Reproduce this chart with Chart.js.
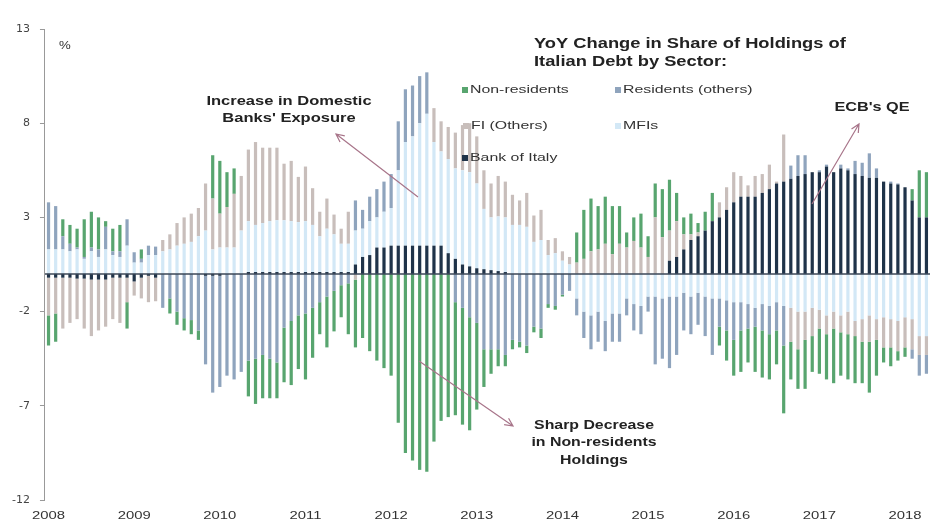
<!DOCTYPE html>
<html>
<head>
<meta charset="utf-8">
<title>YoY Change in Share of Holdings of Italian Debt by Sector</title>
<script src="https://cdn.jsdelivr.net/npm/chart.js@4.4.0/dist/chart.umd.min.js"></script>
<style>
    html, body { margin: 0; padding: 0; background: #fff; }
    #wrap { width: 932px; height: 525px; position: relative; }
</style>
</head>
<body>
<div id="wrap"><canvas id="holdings"></canvas></div>
<script>
    "use strict";

    // Years on the axis, one bar per month (Jan 2008 - Apr 2018)
    var years = ['2008', '2009', '2010', '2011', '2012', '2013', '2014', '2015', '2016', '2017', '2018'];
    var yTicks = [-12, -7, -2, 3, 8, 13];

    // YoY change in share, % points
    var bankOfItaly = [
        -0.2, -0.2, -0.2, -0.2, -0.25, -0.25, -0.3, -0.3, -0.3, -0.2, -0.2, -0.2,
        -0.4, -0.2, -0.1, -0.2, 0, 0, 0, 0, 0, 0, -0.1, -0.1,
        -0.1, 0, 0, 0, 0.1, 0.1, 0.1, 0.1, 0.1, 0.1, 0.1, 0.1,
        0.1, 0.1, 0.1, 0.1, 0.1, 0.1, 0.1, 0.5, 0.9, 1.0, 1.4, 1.4,
        1.5, 1.5, 1.5, 1.5, 1.5, 1.5, 1.5, 1.5, 1.1, 0.8, 0.5, 0.4,
        0.3, 0.25, 0.2, 0.15, 0.1, 0, 0, 0, 0, 0, 0, 0,
        0, 0, 0, 0, 0, 0, 0, 0, 0, 0, 0, 0,
        0, 0, 0, 0.7, 0.9, 1.3, 1.8, 2.0, 2.3, 2.8, 3.0, 3.4,
        3.8, 4.1, 4.1, 4.1, 4.3, 4.5, 4.8, 4.9, 5.05, 5.2, 5.3, 5.4,
        5.4, 5.7, 5.4, 5.6, 5.5, 5.3, 5.2, 5.1, 5.1, 4.9, 4.8, 4.75,
        4.6, 3.9, 3.0, 3.0
    ];
    var mfis = [
        1.3, 1.3, 1.3, 1.2, 1.3, 0.8, 1.2, 0.9, 1.3, 1.0, 0.9, 1.5,
        0.6, 0.6, 1.0, 1.0, 1.2, 1.3, 1.5, 1.6, 1.7, 2.0, 2.3, 1.3,
        1.4, 1.4, 1.4, 2.3, 2.7, 2.5, 2.6, 2.7, 2.75, 2.75, 2.7, 2.65,
        2.7, 2.5, 1.9, 2.3, 2.0, 1.5, 1.5, 1.8, 1.5, 1.8, 1.6, 1.9,
        2.0, 4.0, 5.5, 5.8, 6.5, 7.0, 5.5, 5.0, 5.0, 4.8, 5.0, 5.0,
        4.5, 3.2, 2.8, 2.9, 2.9, 2.6, 2.6, 2.5, 1.7, 1.8, 1.0, 1.1,
        0.7, 0.5, -1.3, -2.0, -2.2, -2.0, -2.5, -2.1, -2.1, -1.3, -1.6, -1.7,
        -1.2, -1.2, -1.3, -1.2, -1.2, -1.0, -1.2, -1.0, -1.2, -1.3, -1.3, -1.4,
        -1.5, -1.5, -1.6, -1.8, -1.6, -1.7, -1.5, -1.7, -1.8, -2.0, -2.0, -1.8,
        -1.9, -2.2, -2.0, -2.2, -2.0, -2.5, -2.4, -2.2, -2.4, -2.3, -2.4, -2.5,
        -2.3, -2.4, -3.3, -3.3
    ];
    var fiOthers = [
        -2.0, -1.9, -2.7, -2.4, -2.15, -2.65, -3.0, -2.7, -2.5, -2.2, -2.4, -1.3,
        -0.75, -1.1, -1.4, -1.25, 0.6, 0.8, 1.2, 1.4, 1.5, 1.5, 2.5, 2.7,
        1.8, 2.15, 2.85, 2.9, 3.8, 4.4, 4.0, 3.9, 3.85, 3.0, 3.2, 2.4,
        2.9, 1.95, 1.3, 1.6, 1.05, 0.8, 1.7, -0.3, 0, 0, 0, 0,
        0, 0, 0, 0, 0, 0, 1.8, 1.6, 1.7, 1.9, 2.4, 2.6,
        2.5, 2.05, 1.8, 2.15, 1.9, 1.6, 1.3, 1.8, 1.4, 1.6, 0.8, 0.8,
        0.5, 0.4, 0.6, 0.8, 1.2, 1.3, 1.6, 1.05, 1.6, 1.4, 1.75, 1.4,
        0.9, 3.0, 1.95, 1.6, 1.9, 0.8, 0.3, 0.2, 0, 0, 0.8, 1.2,
        1.6, 1.1, 0.6, 1.1, 1.0, 1.3, 0.1, 2.5, -1.8, -2.0, -1.5, -1.5,
        -1.0, -1.0, -0.9, -0.9, -1.2, -0.8, -1.2, -1.4, -1.1, -1.6, -1.5, -1.6,
        -1.6, -1.6, -1.0, -1.0
    ];
    var residentsOthers = [
        2.5, 2.3, 0.7, 0.4, 0.1, 0.1, 0.2, 0.4, 1.2, 0.2, 0.3, 1.4,
        0.55, 0.2, 0.5, 0.45, -1.8, -1.3, -2.0, -2.35, -2.45, -3.0, -4.7, -6.2,
        -5.9, -5.4, -5.6, -5.2, -4.6, -4.5, -4.3, -4.5, -4.7, -2.85, -2.5, -2.2,
        -2.1, -1.8, -1.5, -1.2, -0.9, -0.6, -0.5, 1.6, 1.0, 1.3, 1.5, 1.6,
        1.8, 2.6, 2.8, 2.7, 2.5, 2.2, 0, 0, 0, -1.5, -1.8, -2.3,
        -2.6, -4.0, -4.0, -4.0, -4.3, -3.5, -3.6, -3.8, -2.8, -2.9, -1.6, -1.7,
        -1.1, -0.9, -0.9, -1.4, -1.8, -1.6, -1.6, -1.5, -1.5, -0.9, -1.4, -1.5,
        -0.8, -3.6, -3.2, -3.8, -3.1, -2.0, -2.0, -1.7, -2.1, -3.0, -1.5, -1.6,
        -2.0, -1.5, -1.3, -1.0, -1.4, -1.5, -1.5, -2.1, 0.7, 1.1, 1.0, 0,
        0.1, 0.1, 0, 0.2, 0.1, 0.7, 0.7, 1.3, 0.5, 0, 0.1, 0.05,
        0, -0.5, -1.1, -1.0
    ];
    var nonResidents = [
        -1.6, -1.5, 0.9, 1.0, 1.0, 2.0, 1.9, 1.7, 0.3, 1.2, 1.4, -1.4,
        0, 0.5, 0, 0, 0, -0.8, -0.7, -0.65, -0.75, -0.5, 0, 2.3,
        2.8, 1.85, 1.35, 0, -1.9, -2.4, -2.3, -2.1, -1.9, -2.9, -3.4, -2.85,
        -3.5, -2.65, -1.7, -2.7, -2.15, -1.7, -2.7, -3.6, -3.4, -4.1, -4.6, -5.0,
        -5.4, -7.9, -9.5, -9.9, -10.4, -10.5, -8.9, -7.8, -7.6, -6.0, -6.2, -6.0,
        -4.6, -2.0, -1.3, -0.9, -0.6, -0.5, -0.3, -0.4, -0.3, -0.5, -0.2, -0.2,
        -0.1, 0, 1.6, 2.6, 2.8, 2.3, 2.5, 2.55, 2.0, 0.8, 1.25, 1.8,
        1.1, 1.8, 2.55, 2.7, 1.5, 0.9, 1.1, 0.5, 1.0, 1.5, -1.0, -1.6,
        -1.9, -2.2, -1.8, -2.4, -2.5, -2.4, -1.8, -3.6, -2.0, -2.1, -2.6, -1.9,
        -2.4, -2.4, -2.9, -2.3, -2.4, -2.5, -2.2, -2.7, -1.9, -0.8, -1.0, -0.5,
        -0.5, 0.6, 2.5, 2.4
    ];

    // Month categories
    var months = [];
    years.forEach(function (y) {
        for (var m = 1; m <= 12; m++) {
            months.push(y + '-' + (m < 10 ? '0' : '') + m);
        }
    });
    months = months.slice(0, nonResidents.length);

    var FONT = '"Liberation Sans", Arial, sans-serif';
    var colors = {
        nonRes: '#58a56f',
        res: '#8fa4bd',
        fi: '#c8bebb',
        mfi: '#d3e8f6',
        boi: '#1f3349'
    };

    // text squeezed wider, like the stretched original
    function wideText(ctx, str, x, y, font, sx, align) {
        ctx.save();
        ctx.font = font;
        ctx.textAlign = align || 'left';
        ctx.textBaseline = 'middle';
        ctx.translate(x, y);
        ctx.scale(sx, 1);
        ctx.fillText(str, 0, 0);
        ctx.restore();
    }

    function arrow(ctx, x1, y1, x2, y2) {
        var a = Math.atan2(y2 - y1, x2 - x1);
        ctx.strokeStyle = '#a8758a';
        ctx.lineWidth = 1.2;
        ctx.beginPath();
        ctx.moveTo(x1, y1);
        ctx.lineTo(x2, y2);
        ctx.moveTo(x2 - 9 * Math.cos(a - 0.45), y2 - 9 * Math.sin(a - 0.45));
        ctx.lineTo(x2, y2);
        ctx.lineTo(x2 - 9 * Math.cos(a + 0.45), y2 - 9 * Math.sin(a + 0.45));
        ctx.stroke();
    }

    // Zero line, year labels, title, legend and notes
    var overlay = {
        id: 'overlay',
        afterDatasetsDraw: function (chart) {
            var ctx = chart.ctx;
            var area = chart.chartArea;
            var xs = chart.scales.x;
            var y0 = chart.scales.y.getPixelForValue(0);

            ctx.save();
            ctx.strokeStyle = '#3b4757';
            ctx.lineWidth = 1.5;
            ctx.beginPath();
            ctx.moveTo(area.left, y0);
            ctx.lineTo(area.right, y0);
            ctx.stroke();

            // year labels under January bars
            ctx.fillStyle = '#333';
            years.forEach(function (y, i) {
                if (i * 12 < months.length) {
                    wideText(ctx, y, xs.getPixelForValue(i * 12), 516, '11px ' + FONT, 1.35, 'center');
                }
            });

            wideText(ctx, '%', 59, 46, '11px ' + FONT, 1.2, 'left');

            // title
            ctx.fillStyle = '#222';
            wideText(ctx, 'YoY Change in Share of Holdings of', 534, 44, 'bold 15px ' + FONT, 1.22, 'left');
            wideText(ctx, 'Italian Debt by Sector:', 534, 62, 'bold 15px ' + FONT, 1.22, 'left');

            // legend
            var items = [
                ['Non-residents', colors.nonRes, 462, 90],
                ['Residents (others)', colors.res, 615, 90],
                ['FI (Others)', colors.fi, 463, 126],
                ['MFIs', colors.mfi, 615, 126],
                ['Bank of Italy', colors.boi, 462, 158]
            ];
            items.forEach(function (it) {
                ctx.fillStyle = it[1];
                ctx.fillRect(it[2], it[3] - 3, 6, 6);
                ctx.fillStyle = '#333';
                wideText(ctx, it[0], it[2] + 8, it[3], '11.5px ' + FONT, 1.38, 'left');
            });

            // notes
            ctx.fillStyle = '#222';
            var noteFont = 'bold 13px ' + FONT;
            wideText(ctx, 'Increase in Domestic', 289, 101, noteFont, 1.27, 'center');
            wideText(ctx, "Banks' Exposure", 289, 118, noteFont, 1.27, 'center');
            wideText(ctx, "ECB's QE", 872, 107, noteFont, 1.25, 'center');
            wideText(ctx, 'Sharp Decrease', 594, 425, noteFont, 1.22, 'center');
            wideText(ctx, 'in Non-residents', 594, 442, noteFont, 1.22, 'center');
            wideText(ctx, 'Holdings', 594, 460, noteFont, 1.22, 'center');

            arrow(ctx, 418, 197, 336, 134);
            arrow(ctx, 812, 204, 859, 124);
            arrow(ctx, 419, 361, 513, 426);
            ctx.restore();
        }
    };

    function series(label, data, color) {
        return {
            label: label,
            data: data,
            backgroundColor: color,
            stack: 'all',
            barPercentage: 0.45,
            categoryPercentage: 1.0
        };
    }

    var ctx1 = document.getElementById('holdings').getContext('2d');
    var holdingsChart = new Chart(ctx1, {
        type: 'bar',
        data: {
            labels: months,
            datasets: [
                series('Bank of Italy', bankOfItaly, colors.boi),
                series('MFIs', mfis, colors.mfi),
                series('FI (Others)', fiOthers, colors.fi),
                series('Residents (others)', residentsOthers, colors.res),
                series('Non-residents', nonResidents, colors.nonRes)
            ]
        },
        options: {
            responsive: true,
            maintainAspectRatio: false,
            animation: false,
            layout: { padding: { top: 29, right: 2, bottom: 25, left: 2 } },
            plugins: {
                legend: { display: false },
                tooltip: { enabled: false }
            },
            scales: {
                x: {
                    stacked: true,
                    display: false
                },
                y: {
                    stacked: true,
                    min: yTicks[0],
                    max: yTicks[yTicks.length - 1],
                    ticks: {
                        stepSize: yTicks[1] - yTicks[0],
                        padding: 10,
                        color: '#444',
                        font: { family: '"DejaVu Sans", sans-serif', size: 11 }
                    },
                    grid: { drawOnChartArea: false, tickLength: 5, color: '#999' },
                    border: { color: '#999' }
                }
            }
        },
        plugins: [overlay]
    });
</script>
</body>
</html>
